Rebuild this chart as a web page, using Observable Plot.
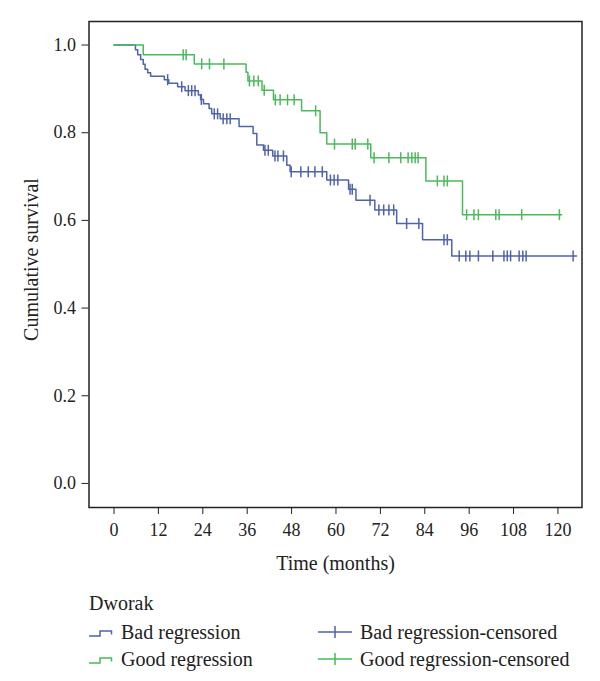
<!DOCTYPE html>
<html>
<head>
<meta charset="utf-8">
<script src="https://cdn.jsdelivr.net/npm/d3@7"></script>
<script src="https://cdn.jsdelivr.net/npm/@observablehq/plot@0.6"></script>
<style>
  body { margin: 0; background: #fff; font-family: "Liberation Serif", "DejaVu Serif", serif; color: #222; }
  #wrap { position: relative; width: 600px; height: 681px; }
  #legend { position: absolute; left: 0; top: 588px; width: 600px; height: 93px; font-size: 20px; }
  .lg { position: absolute; white-space: nowrap; line-height: 22px; height: 22px; }
</style>
</head>
<body>
<div id="wrap">
  <div id="chart"></div>
  <div id="legend"></div>
</div>
<script>
// ---- data ----
const groupNames = ["Bad regression", "Good regression"];
const legendTitle = "Dworak";
const xTicks = [0, 12, 24, 36, 48, 60, 72, 84, 96, 108, 120];
const yTicks = [0, 0.2, 0.4, 0.6, 0.8, 1.0];

const badTimes = [0, 5.8, 6.4, 7.2, 7.9, 8.4, 9.1, 9.9, 13.6, 14.8, 17.2, 19.2, 22.8, 23.4, 24.2, 25.7, 26.4, 28.7, 33.8, 37.6, 38.6, 40.4, 42.9, 46.7, 47.6, 57.5, 63.4, 65.4, 70.5, 76.4, 83.4, 91.3, 125.0];
const badSurv  = [1, 0.989, 0.978, 0.967, 0.956, 0.945, 0.937, 0.929, 0.921, 0.913, 0.905, 0.896, 0.886, 0.876, 0.866, 0.855, 0.843, 0.832, 0.814, 0.798, 0.772, 0.760, 0.747, 0.726, 0.711, 0.692, 0.671, 0.646, 0.624, 0.593, 0.556, 0.519, 0.519];
const badCensor = [14.5, 18.3, 20.1, 21.0, 21.9, 23.6, 27.1, 28.0, 29.5, 30.5, 31.4, 40.8, 41.7, 43.5, 44.3, 45.8, 47.9, 50.5, 52.5, 54.3, 56.3, 58.5, 59.5, 60.5, 63.8, 64.4, 69.2, 71.6, 72.9, 74.3, 75.6, 79.1, 82.4, 89.2, 90.1, 93.3, 95.1, 96.2, 98.5, 102.4, 105.4, 106.3, 107.2, 109.5, 110.5, 111.4, 124.1];

const goodTimes = [0, 7.9, 21.7, 35.7, 36.2, 40.0, 43.1, 50.7, 55.7, 57.5, 69.4, 84.3, 94.2, 121.0];
const goodSurv  = [1, 0.978, 0.957, 0.938, 0.918, 0.897, 0.875, 0.850, 0.800, 0.774, 0.743, 0.690, 0.613, 0.613];
const goodCensor = [18.7, 19.5, 23.7, 25.8, 29.7, 36.6, 37.8, 39.0, 40.6, 43.6, 44.9, 46.9, 48.7, 54.5, 59.6, 64.4, 65.2, 68.6, 70.3, 74.3, 77.5, 79.5, 80.5, 81.4, 82.2, 87.4, 89.2, 90.1, 95.3, 97.3, 98.5, 103.2, 104.1, 110.2, 120.4];

const colors = ["#4f63ad", "#4cb95a"];

// ---- build tables ----
function curve(times, surv, g) { return times.map((t, i) => ({t, s: surv[i], g})); }
function levelAt(times, surv, t) {
  let s = surv[0];
  for (let i = 0; i < times.length; i++) if (times[i] <= t) s = surv[i];
  return s;
}
function censored(list, times, surv, g) { return list.map(t => ({t, s: levelAt(times, surv, t), g})); }

const lines = [...curve(badTimes, badSurv, groupNames[0]), ...curve(goodTimes, goodSurv, groupNames[1])];
const cens = [...censored(badCensor, badTimes, badSurv, groupNames[0]), ...censored(goodCensor, goodTimes, goodSurv, groupNames[1])];

const vbar = { draw(ctx, size) { const h = 5.5; ctx.moveTo(0, -h); ctx.lineTo(0, h); } };

const chart = Plot.plot({
  width: 600,
  height: 588,
  marginLeft: 88.5,
  marginRight: 18.5,
  marginTop: 21,
  marginBottom: 81,
  style: { fontFamily: "Liberation Serif, serif", fontSize: "18px", color: "#222", background: "#fff" },
  x: { domain: [-6.76, 126.5], ticks: xTicks, tickSize: 7, tickPadding: 9, tickFormat: d => d, label: null },
  y: { domain: [-0.0549, 1.0537], ticks: yTicks, tickSize: 7, tickPadding: 6, tickFormat: d3.format(".1f"), label: null },
  color: { domain: groupNames, range: colors },
  marks: [
    Plot.line(lines, { x: "t", y: "s", z: "g", stroke: "g", curve: "step-after", strokeWidth: 1.5 }),
    Plot.dot(cens, { x: "t", y: "s", stroke: "g", symbol: () => vbar, r: 3, strokeWidth: 1.5, fill: "none" }),
    Plot.frame({ stroke: "#222", strokeWidth: 1.5 }),
    Plot.text(["Time (months)"], { frameAnchor: "bottom", lineAnchor: "middle", textAnchor: "middle", dy: 56, fontSize: 20, fill: "#222" }),
    Plot.text(["Cumulative survival"], { frameAnchor: "left", textAnchor: "middle", lineAnchor: "middle", dx: -57, dy: -5, rotate: -90, fontSize: 20, fill: "#222" })
  ]
});
document.getElementById("chart").appendChild(chart);

// ---- legend ----
const legend = document.getElementById("legend");
function add(html, left, top) {
  const d = document.createElement("div");
  d.className = "lg"; d.style.left = left + "px"; d.style.top = top + "px";
  d.innerHTML = html; legend.appendChild(d);
}
add(legendTitle, 89, 4);
const rows = [33, 60];
groupNames.forEach((name, i) => {
  const c = colors[i];
  add(`<svg width="24" height="22" style="display:block"><path d="M0,15 H11 V10 H22.5 V13.5" fill="none" stroke="${c}" stroke-width="1.5"/></svg>`, 89, rows[i]);
  add(name, 121, rows[i]);
  add(`<svg width="36" height="22" style="display:block"><path d="M1,11 H35 M18,5 V17" fill="none" stroke="${c}" stroke-width="1.5"/></svg>`, 317, rows[i]);
  add(name + "-censored", 360, rows[i]);
});
</script>
</body>
</html>
